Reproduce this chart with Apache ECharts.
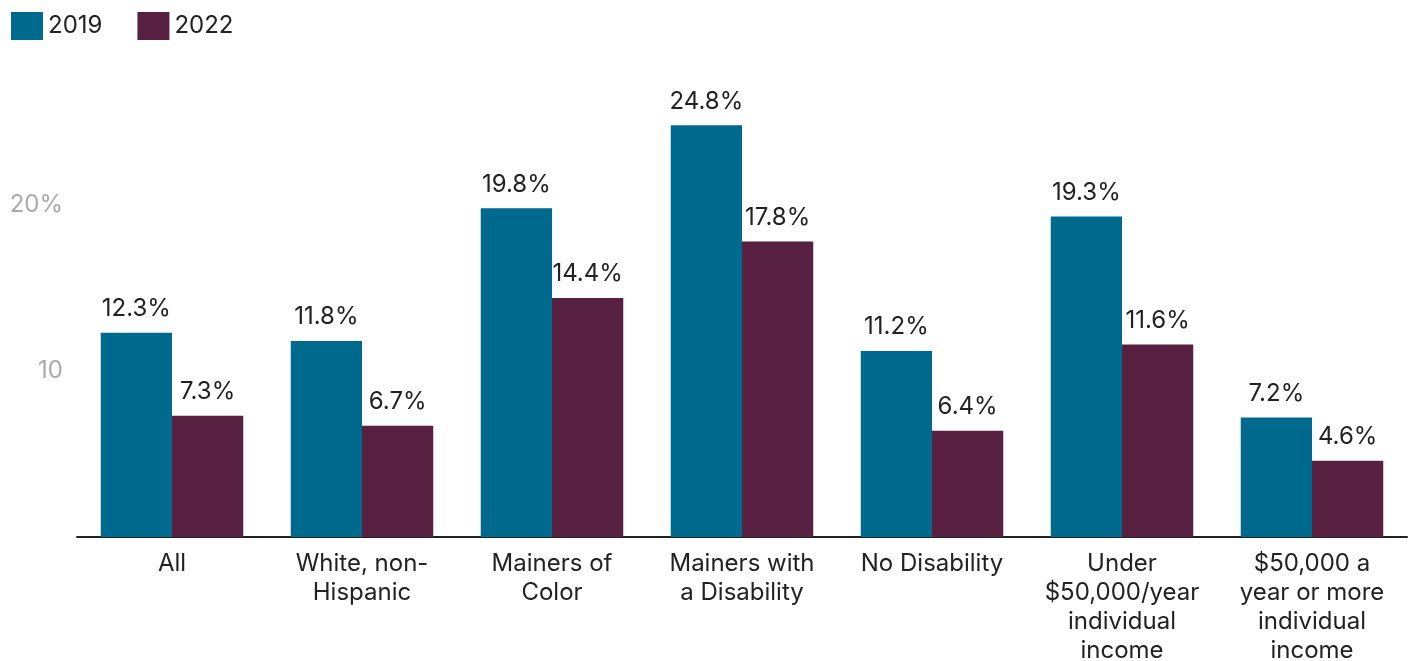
<!DOCTYPE html>
<html><head><meta charset="utf-8">
<script src="https://cdn.jsdelivr.net/npm/echarts@6/dist/echarts.min.js"></script>
<style>html,body{margin:0;padding:0;background:#fff}#c{width:1410px;height:661px}</style>
</head><body><div id="c"></div>
<script>
const categories = ['All','White, non-\nHispanic','Mainers of\nColor','Mainers with\na Disability','No Disability','Under\n$50,000/year\nindividual\nincome','$50,000 a\nyear or more\nindividual\nincome'];
const values2019 = [12.3, 11.8, 19.8, 24.8, 11.2, 19.3, 7.2];
const values2022 = [7.3, 6.7, 14.4, 17.8, 6.4, 11.6, 4.6];
const yTicks = {10:'10', 20:'20%'};
const font = 'Inter';
const chart = echarts.init(document.getElementById('c'));
const lbl = {show:true, position:'top', distance:12, formatter: p => p.value.toFixed(1)+'%', color:'#222', fontSize:24, fontFamily:font};
chart.setOption({
  animation:false,
  legend:{left:6, top:7, itemWidth:32, itemHeight:28, itemGap:35, icon:'rect',
    textStyle:{fontSize:24, color:'#222', fontFamily:font, padding:[0,0,0,0]}},
  grid:{left:77, right:3, top:39, bottom:124, outerBoundsMode:'none', containLabel:false},
  xAxis:{type:'category', data:categories,
    axisLine:{lineStyle:{color:'#222', width:2}}, axisTick:{show:false},
    axisLabel:{fontSize:24, color:'#222', fontFamily:font, lineHeight:29, margin:12, interval:0}},
  yAxis:{type:'value', min:0, max:30, interval:10, splitLine:{show:false},
    axisLabel:{formatter: v => yTicks[v] || '', color:'#aaa', fontSize:24, fontFamily:font, margin:14}},
  series:[
    {name:'2019', type:'bar', data:values2019, itemStyle:{color:'#006a8e'}, barGap:'0%', barCategoryGap:'25%', label:lbl},
    {name:'2022', type:'bar', data:values2022, itemStyle:{color:'#582142'}, label:lbl}
  ]
});
</script></body></html>
